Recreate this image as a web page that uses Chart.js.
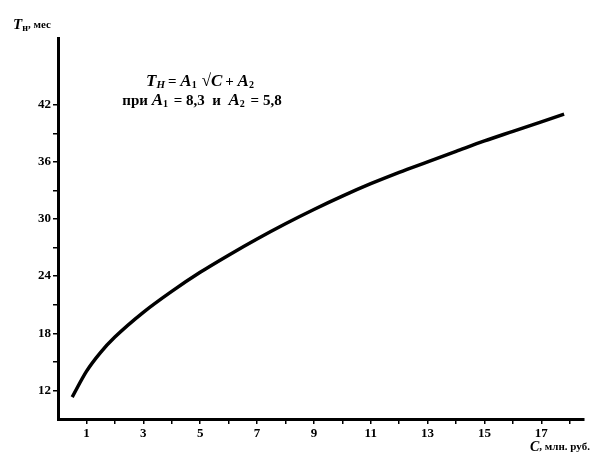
<!DOCTYPE html>
<html>
<head>
<meta charset="utf-8">
<script src="https://cdn.jsdelivr.net/npm/chart.js@4/dist/chart.umd.min.js"></script>
<style>
  html, body { margin: 0; padding: 0; background: #fff; }
  #wrap { width: 605px; height: 464px; }
</style>
</head>
<body>
<div id="wrap"><canvas id="chartTn"></canvas></div>
<script>
// Значения
const capital = [0.5, 1, 1.5, 2, 3, 4, 5, 6, 7, 8, 9, 10, 11, 12, 13, 14, 15, 16, 17, 17.8];
const termTn = [11.3, 14.0, 16.0, 17.6, 20.2, 22.4, 24.4, 26.2, 27.9, 29.5, 31.0, 32.4, 33.7, 34.9, 36.0, 37.1, 38.2, 39.2, 40.2, 41.0];
const xTickLabels = [1, 3, 5, 7, 9, 11, 13, 15, 17];
const yTickLabels = [12, 18, 24, 30, 36, 42];

const serif = "'Liberation Serif', 'DejaVu Serif', serif";

// рисует строку из кусков с разными шрифтами (для индексов)
function drawRuns(ctx, runs, x, y, align) {
    let total = 0;
    runs.forEach(r => { ctx.font = r.font; total += ctx.measureText(r.t).width + (r.gap || 0); });
    let cx = align === 'center' ? x - total / 2 : x;
    runs.forEach(r => {
        ctx.font = r.font;
        ctx.fillText(r.t, cx, y + (r.dy || 0));
        cx += ctx.measureText(r.t).width + (r.gap || 0);
    });
}

const textPlugin = {
    id: 'texts',
    afterDraw(chart) {
        const ctx = chart.ctx;
        ctx.save();
        ctx.fillStyle = '#000';
        ctx.textBaseline = 'middle';
        const bi = 'italic bold 17px ' + serif;
        const b = 'bold 15px ' + serif;
        const sub = 'bold 10px ' + serif;

        // подпись оси Y
        drawRuns(ctx, [
            { t: 'T', font: 'italic bold 15px ' + serif },
            { t: 'н', font: sub, dy: 3 },
            { t: ', мес', font: 'bold 11px ' + serif }
        ], 13, 25, 'left');

        // подпись оси X
        drawRuns(ctx, [
            { t: 'C', font: 'italic bold 14px ' + serif },
            { t: ', млн. руб.', font: 'bold 11px ' + serif }
        ], 530, 447, 'left');

        // формула
        drawRuns(ctx, [
            { t: 'T', font: bi },
            { t: 'H', font: 'italic bold 11px ' + serif, dy: 3, gap: 3 },
            { t: '= ', font: b },
            { t: 'A', font: bi },
            { t: '1', font: sub, dy: 3, gap: 5 },
            { t: '√', font: 'bold 17px ' + serif },
            { t: 'C', font: bi, gap: 3 },
            { t: '+ ', font: b },
            { t: 'A', font: bi },
            { t: '2', font: sub, dy: 3 }
        ], 200, 82, 'center');

        drawRuns(ctx, [
            { t: 'при ', font: b },
            { t: 'A', font: bi },
            { t: '1', font: sub, dy: 3, gap: 2 },
            { t: ' = 8,3  и  ', font: b },
            { t: 'A', font: bi },
            { t: '2', font: sub, dy: 3, gap: 2 },
            { t: ' = 5,8', font: b }
        ], 202, 101, 'center');
        ctx.restore();
    }
};

const ctx1 = document.getElementById('chartTn').getContext('2d');
new Chart(ctx1, {
    type: 'scatter',
    data: {
        datasets: [{
            data: capital.map((c, i) => ({ x: c, y: termTn[i] })),
            showLine: true,
            borderColor: '#000',
            borderWidth: 3.5,
            pointRadius: 0,
            cubicInterpolationMode: 'monotone',
            fill: false
        }]
    },
    options: {
        responsive: true,
        maintainAspectRatio: false,
        animation: false,
        layout: { padding: { top: 38, right: 21, left: 0, bottom: 0 } },
        plugins: { legend: { display: false }, tooltip: { enabled: false }, title: { display: false } },
        scales: {
            x: {
                type: 'linear',
                min: 0,
                max: 18.5,
                afterFit: s => { s.height = 45; },
                afterBuildTicks: s => {
                    s.ticks = [];
                    for (let v = 1; v <= 18; v++) s.ticks.push({ value: v });
                },
                border: { color: '#000', width: 3 },
                grid: { drawOnChartArea: false, drawTicks: true, tickLength: 5, color: '#000', lineWidth: 1.5 },
                ticks: {
                    padding: 2,
                    color: '#000',
                    font: { family: serif, size: 13, weight: 'bold' },
                    maxRotation: 0,
                    autoSkip: false,
                    callback: v => xTickLabels.includes(v) ? String(v) : ''
                }
            },
            y: {
                type: 'linear',
                min: 9,
                max: 49,
                afterFit: s => { s.width = 58; },
                afterBuildTicks: s => {
                    s.ticks = [];
                    for (let v = 12; v <= 42; v += 3) s.ticks.push({ value: v });
                },
                border: { color: '#000', width: 3 },
                grid: { drawOnChartArea: false, drawTicks: true, tickLength: 5, color: '#000', lineWidth: 1.5 },
                ticks: {
                    padding: 2,
                    color: '#000',
                    font: { family: serif, size: 13, weight: 'bold' },
                    autoSkip: false,
                    callback: v => yTickLabels.includes(v) ? String(v) : ''
                }
            }
        }
    },
    plugins: [textPlugin]
});
</script>
</body>
</html>
